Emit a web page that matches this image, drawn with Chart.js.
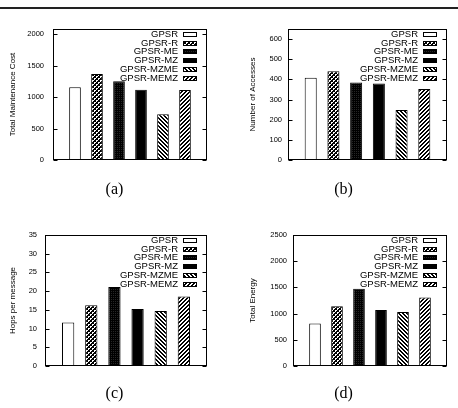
<!DOCTYPE html>
<html>
<head>
<meta charset="utf-8">
<script src="https://cdn.jsdelivr.net/npm/chart.js@4"></script>
<style>
  body { margin: 0; background: #fff; }
  #wrap { position: relative; width: 458px; height: 408px; overflow: hidden; }
  .rule { position: absolute; left: 0; top: 7px; width: 458px; height: 0; border-top: 2px solid #222; }
  .panel { position: absolute; width: 229px; height: 204px; }
  .cap { position: absolute; width: 229px; text-align: center; font-family: "Liberation Serif", serif; font-size: 16px; line-height: 16px; color: #000; }
</style>
</head>
<body>
<div id="wrap">
  <div class="rule"></div>
  <canvas id="cA" class="panel" width="229" height="204" style="left:0;top:0"></canvas>
  <canvas id="cB" class="panel" width="229" height="204" style="left:229px;top:0"></canvas>
  <canvas id="cC" class="panel" width="229" height="204" style="left:0;top:204px"></canvas>
  <canvas id="cD" class="panel" width="229" height="204" style="left:229px;top:204px"></canvas>
  <div class="cap" style="left:0;top:181px">(a)</div>
  <div class="cap" style="left:229px;top:181px">(b)</div>
  <div class="cap" style="left:0;top:385px">(c)</div>
  <div class="cap" style="left:229px;top:385px">(d)</div>
</div>
<script>
// Reihen und Werte
const series = ['GPSR', 'GPSR-R', 'GPSR-ME', 'GPSR-MZ', 'GPSR-MZME', 'GPSR-MEMZ'];
const maintenanceCost = [1155, 1365, 1250, 1115, 725, 1110];
const accesses = [408, 440, 385, 380, 248, 352];
const hops = [11.6, 16.2, 21.1, 15.2, 14.7, 18.6];
const energy = [810, 1140, 1475, 1070, 1030, 1305];

// Achsen
const axisTitles = ['Total Maintenance Cost', 'Number of Accesses', 'Hops per message', 'Total Energy'];
const axisMax = [2080, 650, 35, 2500];
const ticksA = [0, 500, 1000, 1500, 2000];
const ticksB = [0, 100, 200, 300, 400, 500, 600];
const ticksC = [0, 5, 10, 15, 20, 25, 30, 35];
const ticksD = [0, 500, 1000, 1500, 2000, 2500];

const FONT = '"Liberation Sans", Arial, sans-serif';

// Muster wie bei gnuplot
function makePattern(size, pixel) {
    const c = document.createElement('canvas');
    c.width = size; c.height = size;
    const g = c.getContext('2d');
    for (let y = 0; y < size; y++) {
        for (let x = 0; x < size; x++) {
            g.fillStyle = pixel(x, y);
            g.fillRect(x, y, 1, 1);
        }
    }
    return g.createPattern(c, 'repeat');
}

const fills = [
    '#fff',
    makePattern(4, (x, y) => (((x >> 1) + (y >> 1)) % 2 === 0 && !(x % 2 && y % 2)) ? '#fff' : '#000'),
    makePattern(2, (x, y) => (x === 1 && y === 1) ? '#262626' : '#000'),
    '#000',
    makePattern(4, (x, y) => ((x - y + 8) % 4) < 2 ? '#000' : '#fff'),
    makePattern(4, (x, y) => ((x + y) % 4) < 2 ? '#000' : '#fff')
];

// Legende innerhalb des Diagramms, Text rechtsbündig, Kästchen rechts
const insideLegend = {
    id: 'insideLegend',
    afterDatasetsDraw(chart) {
        const { ctx, chartArea } = chart;
        const boxW = 14, boxH = 5, rowH = 8.7;
        const boxX = Math.round(chartArea.right) - 10 - boxW;
        ctx.save();
        ctx.font = '9.5px ' + FONT;
        ctx.textAlign = 'right';
        ctx.textBaseline = 'middle';
        chart.data.datasets.forEach((ds, i) => {
            const y = Math.round(chartArea.top + 5 + i * rowH);
            ctx.fillStyle = '#000';
            ctx.fillText(ds.label, boxX - 5, y + 0.5);
            ctx.fillStyle = ds.backgroundColor;
            ctx.fillRect(boxX, y - 2, boxW, boxH);
            ctx.strokeStyle = '#000';
            ctx.lineWidth = 1;
            ctx.strokeRect(boxX + 0.5, y - 2 + 0.5, boxW - 1, boxH - 1);
        });
        ctx.restore();
    }
};

// Rahmen mit Ticks nach innen
const frame = {
    id: 'frame',
    afterDraw(chart) {
        const { ctx, chartArea } = chart;
        const yScale = chart.scales.y;
        const l = Math.round(chartArea.left) + 0.5;
        const r = Math.round(chartArea.right) - 0.5;
        const t = Math.round(chartArea.top) + 0.5;
        const b = Math.round(chartArea.bottom) - 0.5;
        ctx.save();
        ctx.strokeStyle = '#000';
        ctx.lineWidth = 1;
        ctx.strokeRect(l, t, r - l, b - t);
        ctx.beginPath();
        yScale.ticks.forEach(tick => {
            const py = Math.round(yScale.getPixelForValue(tick.value)) + 0.5;
            ctx.moveTo(l, py); ctx.lineTo(l + 4, py);
            ctx.moveTo(r, py); ctx.lineTo(r - 4, py);
        });
        ctx.stroke();
        ctx.restore();
    }
};

function drawPanel(canvasId, values, idx, tickValues, area, tickPad, titleX) {
    const labels = [''].concat(series, [' ']);
    const datasets = series.map((name, i) => ({
        label: name,
        data: [{ x: name, y: values[i] }],
        backgroundColor: fills[i],
        borderColor: '#000',
        borderWidth: 1,
        grouped: false,
        categoryPercentage: 1,
        barPercentage: 0.53
    }));

    new Chart(document.getElementById(canvasId), {
        type: 'bar',
        data: { labels: labels, datasets: datasets },
        plugins: [insideLegend, frame],
        options: {
            responsive: false,
            animation: false,
            events: [],
            layout: {
                padding: { left: 0, top: area.top, right: 229 - area.right, bottom: 204 - area.bottom }
            },
            plugins: {
                legend: { display: false },
                tooltip: { enabled: false },
                title: { display: false }
            },
            scales: {
                x: {
                    type: 'category',
                    offset: false,
                    display: false
                },
                y: {
                    min: 0,
                    max: axisMax[idx],
                    afterBuildTicks: s => { s.ticks = tickValues.map(v => ({ value: v })); },
                    afterFit: s => { s.width = area.left; },
                    grid: { display: false, drawTicks: false },
                    border: { display: false },
                    ticks: {
                        padding: tickPad,
                        color: '#000',
                        font: { family: FONT, size: 7.5 },
                        callback: v => String(v)
                    },
                    title: {
                        display: true,
                        text: axisTitles[idx],
                        color: '#000',
                        font: { family: FONT, size: 8 },
                        padding: { top: titleX - 4.8, bottom: 0 }
                    }
                }
            }
        }
    });
}

drawPanel('cA', maintenanceCost, 0, ticksA, { left: 53, right: 207, top: 29, bottom: 160 }, 9, 13);
drawPanel('cB', accesses, 1, ticksB, { left: 59, right: 218, top: 29, bottom: 160 }, 6, 24);
drawPanel('cC', hops, 2, ticksC, { left: 45, right: 207, top: 31, bottom: 162 }, 8, 13);
drawPanel('cD', energy, 3, ticksD, { left: 64, right: 218, top: 31, bottom: 162 }, 6, 24);
</script>
</body>
</html>
